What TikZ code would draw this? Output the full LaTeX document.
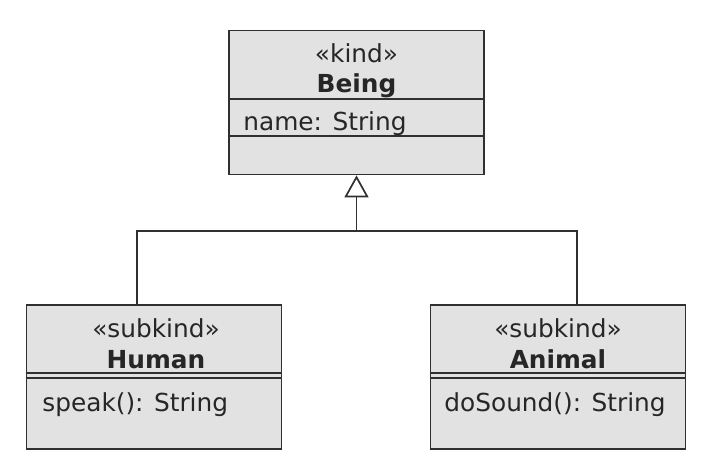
\documentclass[tikz,border=0pt]{standalone}
\usepackage{fontspec}
\setmainfont{DejaVu Sans}
\usetikzlibrary{arrows.meta}
\definecolor{umlfill}{HTML}{E2E2E2}
\definecolor{umlline}{HTML}{303030}
\definecolor{umltext}{HTML}{262626}

\begin{document}
\begin{tikzpicture}[x=0.5pt,y=-0.5pt,
    classbox/.style={draw=umlline,fill=umlfill,line width=0.9pt,minimum width=127.5pt,minimum height=72pt,inner sep=0pt},
    txt/.style={text=umltext,font=\fontsize{12.4}{14}\selectfont,inner sep=0pt,anchor=base},
    sep/.style={draw=umlline,line width=0.8pt},
    gen/.style={draw=umlline,line width=0.85pt}]
            \useasboundingbox (0,0) rectangle (712,465);
            % classes
            \draw (356.5,102.5) node[classbox] (being)  {};
            \draw (154,377)     node[classbox] (human)  {};
            \draw (558,377)     node[classbox] (animal) {};
            % compartments
            \draw[sep] (being.west |- 0,99)   -- (being.east |- 0,99)
                       (being.west |- 0,136)  -- (being.east |- 0,136);
            \draw[sep] (human.west |- 0,373)  -- (human.east |- 0,373)
                       (human.west |- 0,378)  -- (human.east |- 0,378);
            \draw[sep] (animal.west |- 0,373) -- (animal.east |- 0,373)
                       (animal.west |- 0,378) -- (animal.east |- 0,378);
            % texts
            \node[txt] (beingst)  at (356.5,63) {«kind»};
            \node[txt] (beingnm)  at (356.5,93) {\bfseries Being};
            \node[txt,anchor=base west] (beingat) at (243,131) {name: String};
            \node[txt] (humanst)  at (156,337)  {«subkind»};
            \node[txt] (humannm)  at (156,368)  {\bfseries Human};
            \node[txt,anchor=base west] (humanop) at (42,411) {speak(): String};
            \node[txt] (animalst) at (558,337)  {«subkind»};
            \node[txt] (animalnm) at (558,368)  {\bfseries Animal};
            \node[txt,anchor=base west] (animalop) at (444,411) {doSound(): String};
            % generalization
            \coordinate (hjoin) at (137,231);
            \coordinate (ajoin) at (577,231);
            \draw[gen,-{Triangle[open,length=11pt,width=12pt]}]
                  (human.north -| hjoin) -- (hjoin) -- (being.south |- hjoin) -- (being.south);
            \draw[gen] (animal.north -| ajoin) -- (ajoin) -- (being.south |- hjoin);
    \end{tikzpicture}
\end{document}
